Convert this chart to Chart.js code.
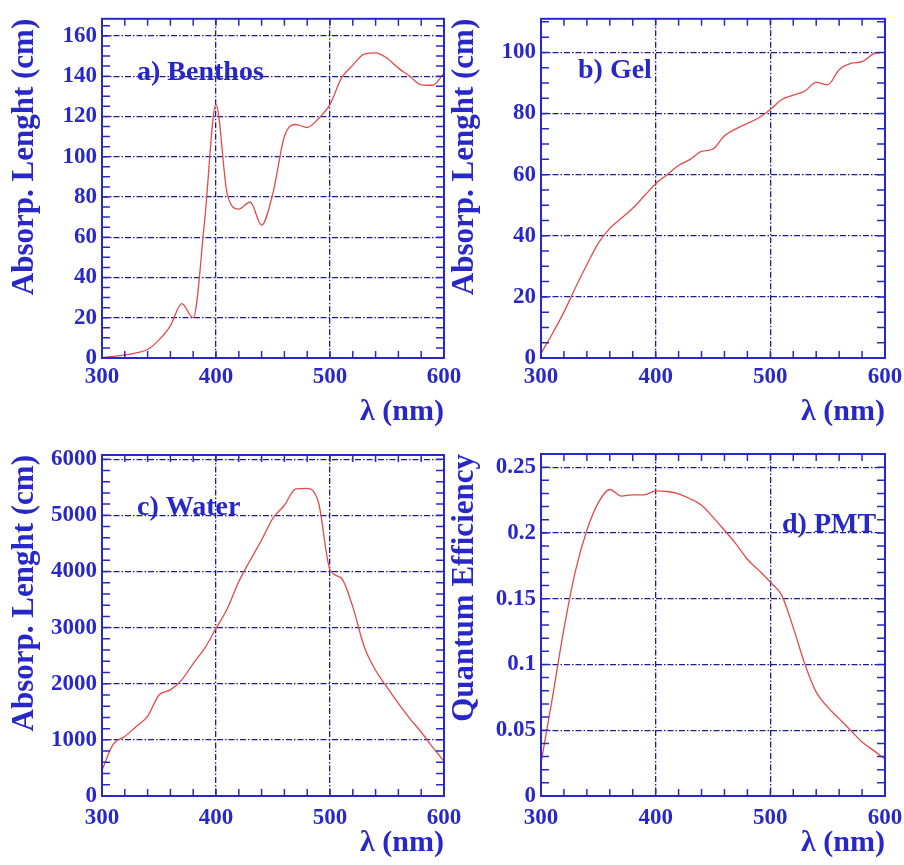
<!DOCTYPE html>
<html>
<head>
<meta charset="utf-8">
<title>Absorption lengths and PMT efficiency</title>
<script src="https://cdn.jsdelivr.net/npm/chart.js@4/dist/chart.umd.min.js"></script>
<style>
  body { margin: 0; background: #fff; }
  #wrap { position: relative; width: 904px; height: 865px; overflow: hidden; }
  canvas { position: absolute; }
</style>
</head>
<body>
<div id="wrap">
  <canvas id="chart-a" width="470" height="432" style="left:0;top:0"></canvas>
  <canvas id="chart-b" width="490" height="432" style="left:440px;top:0"></canvas>
  <canvas id="chart-c" width="470" height="433" style="left:0;top:432px"></canvas>
  <canvas id="chart-d" width="490" height="433" style="left:440px;top:432px"></canvas>
</div>
<script>
// wavelength (nm)
const lambda = [300, 310, 320, 330, 340, 350, 360, 370, 380, 390, 400, 410, 420, 430, 440, 450,
  460, 470, 480, 490, 500, 510, 520, 530, 540, 550, 560, 570, 580, 590, 600];
const gelLambda = [300, 310, 320, 330, 340, 350, 360, 370, 380, 390, 400, 410, 420, 430, 440, 450,
  460, 470, 480, 490, 500, 510, 520, 530, 540, 550, 560, 570, 580, 590, 596];

// absorption length (cm)
const benthos = [0.3, 0.8, 1.5, 2.5, 4.2, 9, 16, 27, 20, 68, 126, 81, 74, 77.5, 66, 82,
  110, 116, 114.5, 119, 126, 139, 145.5, 151, 151.6, 149, 144, 140, 135.7, 135.5, 141.5];
const gel = [1.5, 8, 15, 23, 30.5, 37.6, 42.4, 45.7, 49, 53, 57, 60, 63, 65, 67.6, 68.4,
  72.7, 75, 76.8, 78.6, 81.3, 84.6, 86, 87.3, 90.2, 89.4, 94.3, 96.4, 97, 99.5, 100];
const water = [460, 930, 1060, 1240, 1420, 1800, 1890, 2070, 2360, 2630, 2985, 3340, 3820, 4200, 4560, 4950,
  5180, 5470, 5480, 5220, 4030, 3880, 3370, 2660, 2240, 1940, 1650, 1380, 1140, 870, 620];
// quantum efficiency
const pmt = [0.025, 0.075, 0.127, 0.171, 0.202, 0.223, 0.233, 0.228, 0.229, 0.229, 0.232, 0.2315, 0.2297, 0.226, 0.221, 0.212,
  0.202, 0.1917, 0.18, 0.1715, 0.1626, 0.1525, 0.128, 0.1006, 0.079, 0.0676, 0.0588, 0.05, 0.041, 0.0347, 0.028];

// axis tick labels
const xTicks = [300, 400, 500, 600];
const benthosTicks = [0, 20, 40, 60, 80, 100, 120, 140, 160];
const gelTicks = [0, 20, 40, 60, 80, 100];
const waterTicks = [0, 1000, 2000, 3000, 4000, 5000, 6000];
const pmtTicks = [0, 0.05, 0.1, 0.15, 0.2, 0.25];

const BLUE = "#2828c8";
const NAVY = "#1c1c90";
const RED = "#e44a4a";
const FONT = "'Liberation Serif', 'Times New Roman', serif";

// frame, inward ticks on all sides and the panel label
const frameTicks = {
  id: "frameTicks",
  beforeDatasetsDraw(chart, args, o) {
    const { ctx, chartArea: a } = chart;
    ctx.save();
    ctx.fillStyle = BLUE;
    ctx.font = `bold 28px ${FONT}`;
    ctx.textBaseline = "middle";
    ctx.fillText(o.label, a.left + o.labelX, a.top + o.labelY);
    ctx.restore();
  },
  afterDatasetsDraw(chart, args, o) {
    const { ctx, chartArea: a, scales: { x, y } } = chart;
    ctx.save();
    ctx.strokeStyle = BLUE;
    ctx.lineWidth = 1.5;
    ctx.beginPath();
    const nx = Math.round((x.max - x.min) / o.xMinor);
    for (let i = 0; i <= nx; i++) {
      const px = x.getPixelForValue(x.min + i * o.xMinor);
      ctx.moveTo(px, a.bottom); ctx.lineTo(px, a.bottom - 7);
      ctx.moveTo(px, a.top); ctx.lineTo(px, a.top + 7);
    }
    const ny = Math.floor(y.max / o.yMinor + 1e-6);
    for (let i = 0; i <= ny; i++) {
      const py = y.getPixelForValue(i * o.yMinor);
      ctx.moveTo(a.left, py); ctx.lineTo(a.left + 8, py);
      ctx.moveTo(a.right, py); ctx.lineTo(a.right - 8, py);
    }
    ctx.stroke();
    ctx.lineWidth = 2;
    ctx.strokeRect(a.left, a.top, a.right - a.left, a.bottom - a.top);
    ctx.restore();
  }
};

function makePanel(id, p) {
  const canvas = document.getElementById(id);
  const W = canvas.width, H = canvas.height;
  const [L, T, R, B] = p.box;
  return new Chart(canvas, {
    type: "line",
    data: {
      datasets: [{
        data: p.xs.map((x, i) => ({ x, y: p.ys[i] })),
        borderColor: RED,
        borderWidth: 1.3,
        pointRadius: 0,
        cubicInterpolationMode: "monotone",
        fill: false
      }]
    },
    options: {
      responsive: false,
      animation: false,
      layout: { padding: { left: 0, top: T, right: W - R, bottom: 0 } },
      plugins: {
        legend: { display: false },
        tooltip: { enabled: false },
        frameTicks: { label: p.label, labelX: p.labelX, labelY: p.labelY, xMinor: 20, yMinor: p.yMinor }
      },
      scales: {
        x: {
          type: "linear", min: 300, max: 600,
          afterBuildTicks: s => { s.ticks = xTicks.map(value => ({ value })); },
          ticks: {
            maxRotation: 0, padding: p.xTickPad,
            color: BLUE, font: { family: FONT, size: 23, weight: "bold" }
          },
          grid: { color: NAVY, lineWidth: 1.3, drawTicks: false },
          border: { display: false, dash: [6, 2, 1.5, 2] },
          title: {
            display: true, text: "λ (nm)", align: "end", color: BLUE,
            font: { family: FONT, size: 30, weight: "bold" },
            padding: { top: 0, bottom: p.xTitlePad }
          },
          afterFit: s => { s.height = H - B; }
        },
        y: {
          min: 0, max: p.yMax,
          afterBuildTicks: s => { s.ticks = p.yTicks.map(value => ({ value })); },
          ticks: {
            padding: 5,
            color: BLUE, font: { family: FONT, size: 23, weight: "bold" },
            callback: v => String(v)
          },
          grid: { color: NAVY, lineWidth: 1.3, drawTicks: false },
          border: { display: false, dash: [6, 2, 1.5, 2] },
          title: {
            display: true, text: p.yTitle, align: "end", color: BLUE,
            font: { family: FONT, size: 31, weight: "bold" },
            padding: { top: 6, bottom: 0 }
          },
          afterFit: s => { s.width = L; }
        }
      }
    },
    plugins: [frameTicks]
  });
}

makePanel("chart-a", {
  xs: lambda, ys: benthos, box: [102, 15, 444, 358],
  yMax: 168.5, yTicks: benthosTicks, yMinor: 5, yTitle: "Absorp. Lenght (cm)",
  label: "a) Benthos", labelX: 35, labelY: 54, xTickPad: 5, xTitlePad: 2
});
makePanel("chart-b", {
  xs: gelLambda, ys: gel, box: [101, 15, 445, 358],
  yMax: 111, yTicks: gelTicks, yMinor: 5, yTitle: "Absorp. Lenght (cm)",
  label: "b) Gel", labelX: 37, labelY: 52, xTickPad: 5, xTitlePad: 2
});
makePanel("chart-c", {
  xs: lambda, ys: water, box: [102, 23, 444, 364],
  yMax: 6075, yTicks: waterTicks, yMinor: 200, yTitle: "Absorp. Lenght (cm)",
  label: "c) Water", labelX: 35, labelY: 53, xTickPad: 8, xTitlePad: 4
});
makePanel("chart-d", {
  xs: lambda, ys: pmt, box: [101, 22, 445, 364],
  yMax: 0.26, yTicks: pmtTicks, yMinor: 0.01, yTitle: "Quantum Efficiency",
  label: "d) PMT", labelX: 241, labelY: 71, xTickPad: 8, xTitlePad: 4
});
</script>
</body>
</html>
